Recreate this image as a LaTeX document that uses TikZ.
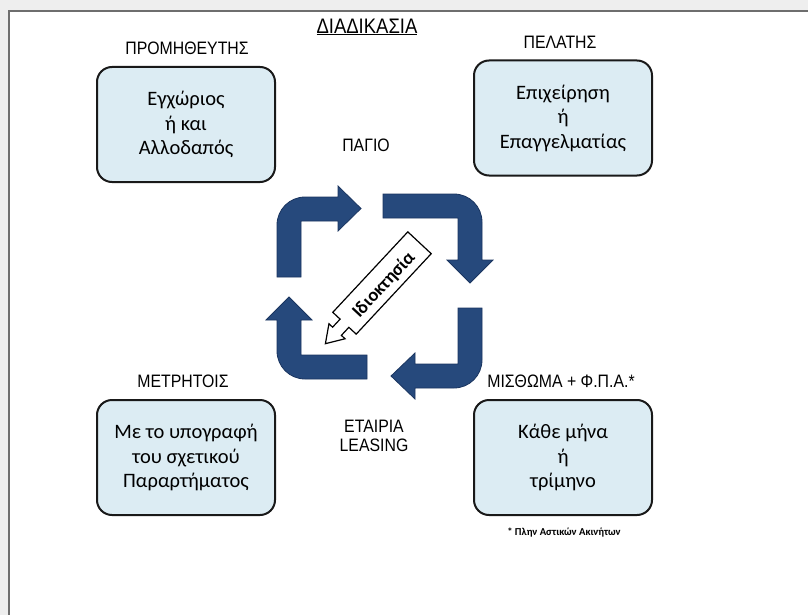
\documentclass[tikz,border=0pt]{standalone}
\usepackage{fontspec}
\setmainfont{Liberation Sans}
\newfontfamily\narrowsans[FakeStretch=0.88]{Liberation Sans}
\newfontfamily\calib{Carlito}
\definecolor{arrowblue}{HTML}{26497C}
\definecolor{arrowdark}{HTML}{1A3560}
\definecolor{boxblue}{HTML}{DCECF3}
\definecolor{framegrey}{HTML}{6E6E6E}
\definecolor{bandgrey}{HTML}{EEEEEE}
\begin{document}
\begin{tikzpicture}[x=1pt,y=-1pt,
  lbl/.style={font=\narrowsans\fontsize{18}{19}\selectfont, inner sep=0pt, align=center},
  infobox/.style={draw=black!90, line width=2pt, fill=boxblue, rounded corners=15pt,
    minimum width=178pt, minimum height=115pt, align=center, inner sep=0pt,
    font=\calib\fontsize{20.5}{24.5}\selectfont},
  cyc/.style={fill=arrowblue, draw=arrowdark, line width=0.8pt},
  callout/.style={fill=white, draw=black, line width=1.2pt, line join=miter}]
\useasboundingbox (0,0) rectangle (808,615);
% frame
\fill[bandgrey] (0,0) rectangle (808,615);
\fill[white] (9,11) rectangle (808,615);
\draw[framegrey, line width=2.5pt] (9,615) -- (9,11) -- (808,11);
% title
\node[lbl, font=\narrowsans\fontsize{21}{22}\selectfont] (title) at (367,27) {\underline{ΔΙΑΔΙΚΑΣΙΑ}};
% labels
\node[lbl] (prom) at (187,48) {ΠΡΟΜΗΘΕΥΤΗΣ};
\node[lbl] (pel) at (560,42) {ΠΕΛΑΤΗΣ};
\node[lbl] (pagio) at (366,145) {ΠΑΓΙΟ};
\node[lbl] (metr) at (183,381) {ΜΕΤΡΗΤΟΙΣ};
\node[lbl] (misth) at (561,381) {ΜΙΣΘΩΜΑ + Φ.Π.Α.*};
\node[lbl] (leasing) at (374,436) {ΕΤΑΙΡΙΑ\\LEASING};
% boxes
\node[infobox] (supplier) at (186,124.5) {Εγχώριος\\ή και\\Αλλοδαπός};
\node[infobox] (client) at (563,118) {Επιχείρηση\\ή\\Επαγγελματίας};
\node[infobox] (cash) at (186,457.5) {Με το υπογραφή\\του σχετικού\\Παραρτήματος};
\node[infobox] (rent) at (563,457.5) {Κάθε μήνα\\ή\\τρίμηνο};
\node[inner sep=0pt, font=\calib\bfseries\fontsize{10.6}{12}\selectfont] (note) at (564,533) {* Πλην Αστικών Ακινήτων};
% cycle arrows
\draw[cyc] (277,277) -- (277,225) arc[start angle=180, end angle=270, radius=28]
  -- (338,197) -- (338,186) -- (361,208.5) -- (338,231) -- (338,221) -- (301,221) -- (301,277) -- cycle;
\draw[cyc] (383,194) -- (454,194) arc[start angle=-90, end angle=0, radius=28]
  -- (482,260) -- (493,260) -- (470,283) -- (447,260) -- (458,260) -- (458,218) -- (383,218) -- cycle;
\draw[cyc] (482,308) -- (482,360) arc[start angle=0, end angle=90, radius=28]
  -- (415,388) -- (415,399) -- (391,376) -- (415,353) -- (415,364) -- (458,364) -- (458,308) -- cycle;
\draw[cyc] (367,379) -- (305,379) arc[start angle=90, end angle=180, radius=28]
  -- (277,320) -- (266,320) -- (289,297) -- (312,320) -- (301,320) -- (301,355) -- (367,355) -- cycle;
% ownership callout arrow
\begin{scope}[shift={(382,283)}, rotate=47]
\draw[callout] (55,-16) -- (55,16) -- (-55,16) -- (-55,6) -- (-66,6) -- (-66,11) -- (-83,0)
  -- (-66,-11) -- (-66,-6) -- (-55,-6) -- (-55,-16) -- cycle;
\end{scope}
\node[rotate=47, inner sep=0pt, font=\calib\bfseries\fontsize{18.5}{20}\selectfont] (own) at (384,285) {Ιδιοκτησία};
\end{tikzpicture}
\end{document}
